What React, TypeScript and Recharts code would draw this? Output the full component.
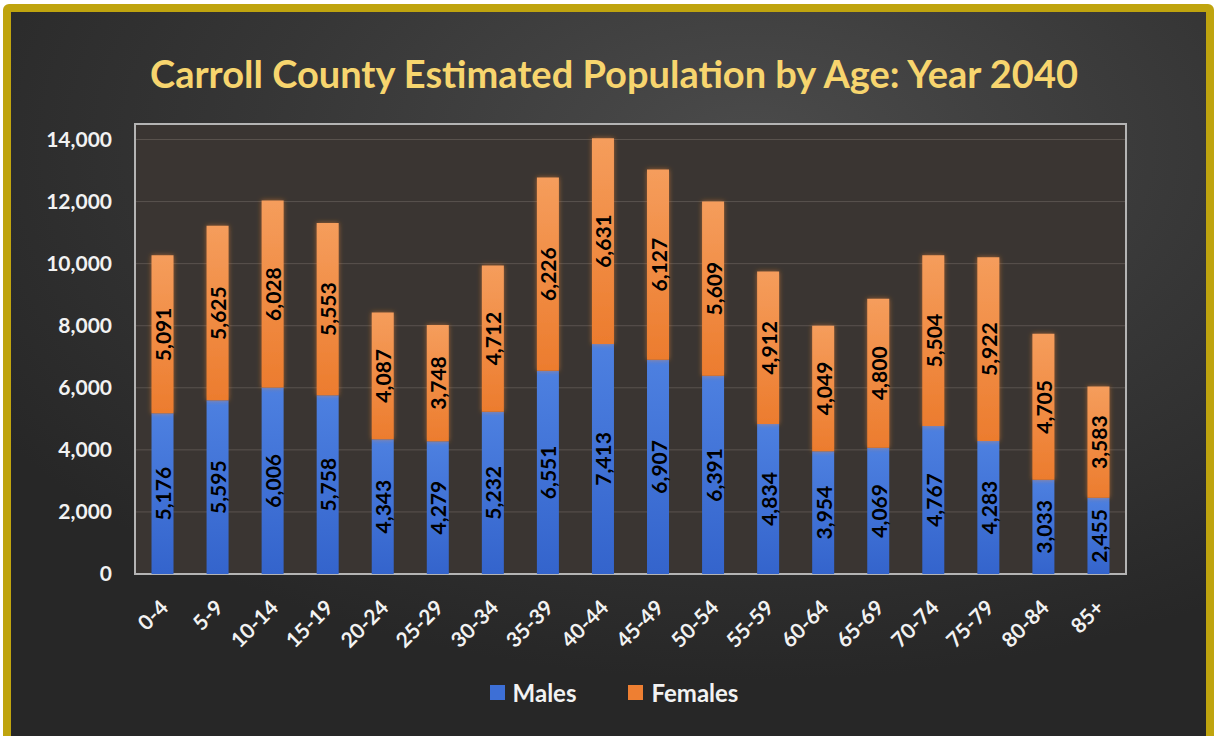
import { BarChart, Bar, XAxis, YAxis, CartesianGrid, Legend, LabelList, ReferenceArea } from 'recharts'

const ageGroups = ['0-4', '5-9', '10-14', '15-19', '20-24', '25-29', '30-34', '35-39', '40-44', '45-49', '50-54', '55-59', '60-64', '65-69', '70-74', '75-79', '80-84', '85+']
const males = [5176, 5595, 6006, 5758, 4343, 4279, 5232, 6551, 7413, 6907, 6391, 4834, 3954, 4069, 4767, 4283, 3033, 2455]
const females = [5091, 5625, 6028, 5553, 4087, 3748, 4712, 6226, 6631, 6127, 5609, 4912, 4049, 4800, 5504, 5922, 4705, 3583]
const yTicks = [0, 2000, 4000, 6000, 8000, 10000, 12000, 14000]

const data = ageGroups.map((age, i) => ({ age, males: males[i], females: females[i] }))

const FONT = 'Lato, "Open Sans", sans-serif'
const fmt = (v: number) => Number(v).toLocaleString('en-US')

function AgeTick({ x, y, payload }: any) {
  return (
    <g transform={`translate(${x + 7},${y + 35})`}>
      <text transform="rotate(-45)" textAnchor="end" fill="#f2f2f2" fontSize={21} fontWeight={700} fontFamily={FONT}>
        {payload.value}
      </text>
    </g>
  )
}

function BarValue({ x, y, width, height, value }: any) {
  const cx = x + width / 2
  const cy = y + height / 2
  return (
    <text x={cx} y={cy} transform={`rotate(-90 ${cx} ${cy})`} textAnchor="middle" dominantBaseline="central"
      fill="#000" fontSize={21} fontWeight={700} fontFamily={FONT}>
      {fmt(value)}
    </text>
  )
}

function LegendBox() {
  const item = (color: string, label: string) => (
    <div style={{ display: 'flex', alignItems: 'center' }}>
      <div style={{ width: 15, height: 15, background: color, marginRight: 8 }} />
      <span style={{ color: '#f2f2f2', fontSize: 24, fontWeight: 700, fontFamily: FONT }}>{label}</span>
    </div>
  )
  return (
    <div style={{ display: 'flex', justifyContent: 'center', gap: 52, paddingLeft: 14 }}>
      {item('#3d6fd6', 'Males')}
      {item('#ee7f32', 'Females')}
    </div>
  )
}

export default function App() {
  return (
    <div style={{ position: 'fixed', left: 0, top: 0, width: 1214, height: 736, background: '#ffffff', overflow: 'hidden' }}>
      <div style={{
        position: 'absolute', left: 3, top: 4, width: 1195, height: 760,
        border: '8px solid #bfa40e', borderRadius: 6,
        background: 'radial-gradient(ellipse 75% 70% at 62% 18%, #4b4b4b 0%, #363636 55%, #272727 100%)',
      }} />
      <div style={{
        position: 'absolute', left: 0, top: 50, width: 1228, textAlign: 'center',
        color: '#f7d56e', fontSize: 38, fontWeight: 700, fontFamily: FONT,
      }}>
        Carroll County Estimated Population by Age: Year 2040
      </div>
      <div style={{ position: 'absolute', left: 0, top: 0 }}>
        <BarChart width={1214} height={736} data={data} barCategoryGap="30%"
          margin={{ top: 124, right: 88, bottom: 28, left: 35 }}>
          <defs>
            <linearGradient id="gMale" x1="0" y1="0" x2="0" y2="1">
              <stop offset="0%" stopColor="#4d80e0" />
              <stop offset="100%" stopColor="#3464cc" />
            </linearGradient>
            <linearGradient id="gFemale" x1="0" y1="0" x2="0" y2="1">
              <stop offset="0%" stopColor="#f59d5c" />
              <stop offset="100%" stopColor="#ec7c2e" />
            </linearGradient>
            <filter id="glow" x="-50%" y="-10%" width="200%" height="120%">
              <feDropShadow dx="0" dy="0" stdDeviation="2.5" floodColor="#ff8a30" floodOpacity="0.55" />
            </filter>
          </defs>
          <CartesianGrid vertical={false} stroke="#5a534f" fill="#3a3532" fillOpacity={1} />
          <ReferenceArea y1={0} y2={14500} fill="none" stroke="#b4b4b4" strokeWidth={2} ifOverflow="visible" />
          <XAxis dataKey="age" interval={0} tick={<AgeTick />} tickLine={false} axisLine={false} tickSize={0} tickMargin={0} height={104} />
          <YAxis domain={[0, 14500]} ticks={yTicks} tickFormatter={fmt} width={100} tickLine={false} axisLine={false}
            tickSize={0} tickMargin={23} tick={{ fill: '#f2f2f2', fontSize: 21, fontWeight: 700, fontFamily: FONT }} />
          <Legend verticalAlign="bottom" height={30} content={<LegendBox />} wrapperStyle={{ left: 0, width: 1214 }} />
          <Bar dataKey="males" name="Males" stackId="a" fill="url(#gMale)" isAnimationActive={false}>
            <LabelList dataKey="males" content={<BarValue />} />
          </Bar>
          <Bar dataKey="females" name="Females" stackId="a" fill="url(#gFemale)" filter="url(#glow)" isAnimationActive={false}>
            <LabelList dataKey="females" content={<BarValue />} />
          </Bar>
        </BarChart>
      </div>
    </div>
  )
}
